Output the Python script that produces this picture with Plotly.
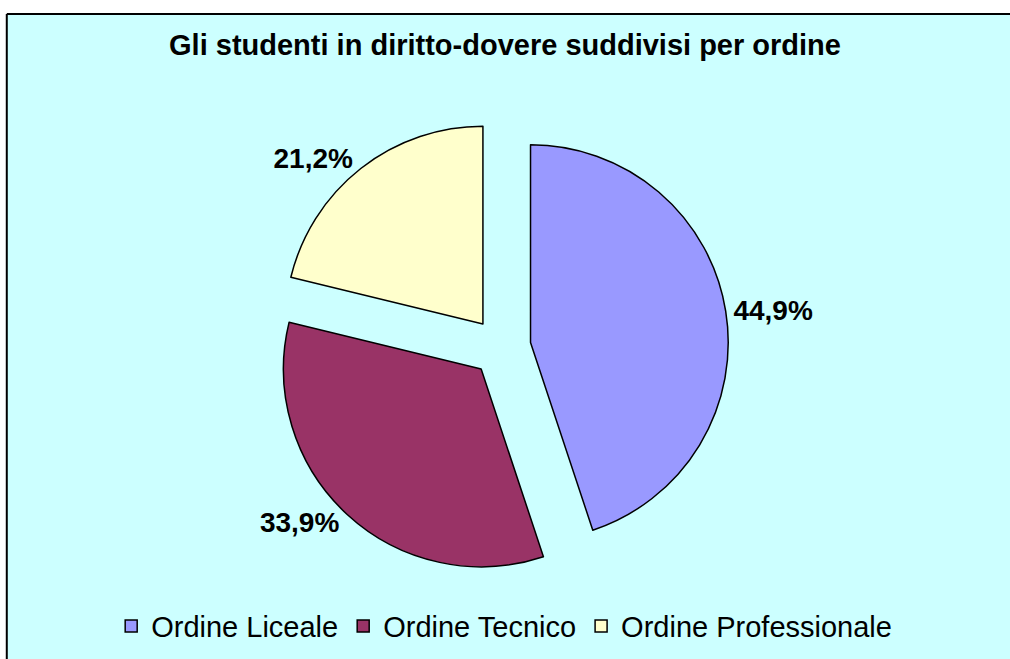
import plotly.graph_objects as go

# Studenti in diritto-dovere per ordine (percentuali)
categorie = ['Ordine Liceale', 'Ordine Tecnico', 'Ordine Professionale']
percentuali = [44.9, 33.9, 21.2]
colori = ['#9999FF', '#993366', '#FFFFCC']

fig = go.Figure(go.Pie(
    labels=categorie,
    values=percentuali,
    sort=False,
    direction='clockwise',
    rotation=0,
    pull=[0.15, 0.15, 0.15],
    marker=dict(colors=colori, line=dict(color='black', width=1.5)),
    texttemplate='<b>%{percent:.1%}</b>',
    textposition='outside',
    outsidetextfont=dict(family='Liberation Sans, Arial', size=28, color='black'),
    domain=dict(x=[0.212, 0.812], y=[0.128, 0.818]),
    hoverinfo='label+percent',
))

top = 1 - 14 / 659
left = 7 / 1010

fig.update_layout(
    width=1010,
    height=659,
    margin=dict(l=0, r=0, t=0, b=0),
    separators=',.',
    paper_bgcolor='#CCFFFF',
    font=dict(family='Liberation Sans, Arial', size=20, color='black'),
    title=dict(
        text='<b>Gli studenti in diritto-dovere suddivisi per ordine</b>',
        x=0.5, xanchor='center', y=0.932, yanchor='middle',
        font=dict(size=29),
    ),
    legend=dict(
        orientation='h', x=0.515, xanchor='center', y=0.05, yanchor='middle',
        font=dict(size=29), bgcolor='rgba(0,0,0,0)', itemwidth=30,
    ),
    shapes=[
        # white margins outside the chart area
        dict(type='rect', xref='paper', yref='paper', layer='below',
             x0=0, x1=1.05, y0=top, y1=1, fillcolor='white', line=dict(width=0)),
        dict(type='rect', xref='paper', yref='paper', layer='below',
             x0=0, x1=left, y0=0, y1=1, fillcolor='white', line=dict(width=0)),
        # chart area border (top and left)
        dict(type='line', xref='paper', yref='paper', layer='below',
             x0=left, x1=1.05, y0=top, y1=top, line=dict(color='black', width=2)),
        dict(type='line', xref='paper', yref='paper', layer='below',
             x0=left, x1=left, y0=0, y1=top, line=dict(color='black', width=2)),
    ],
)

fig.write_html(
    'out.html', config={'displayModeBar': False},
    post_script="document.body.style.margin='0px';"
                "document.body.style.overflow='hidden';"
                "document.documentElement.style.overflow='hidden';",
)
